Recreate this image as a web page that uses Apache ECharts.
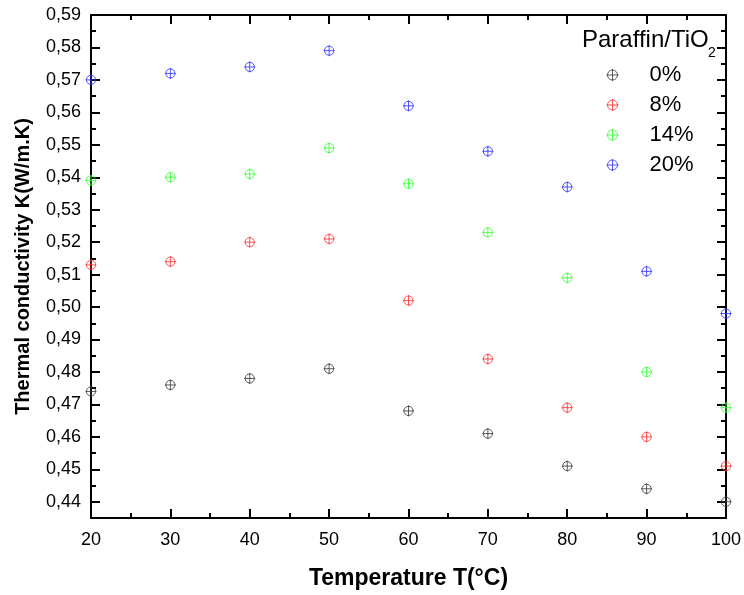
<!DOCTYPE html>
<html>
<head>
<meta charset="utf-8">
<script src="https://cdn.jsdelivr.net/npm/echarts@6/dist/echarts.min.js"></script>
<style>html,body{margin:0;padding:0;background:#fff}#c{width:744px;height:595px}</style>
</head>
<body>
<div id="c"></div>
<script>
// ---- data ----
const temperatures = [20, 30, 40, 50, 60, 70, 80, 90, 100];
const seriesNames = ['0%', '8%', '14%', '20%'];
const k0 = [0.474, 0.476, 0.478, 0.481, 0.468, 0.461, 0.451, 0.444, 0.440];
const k8 = [0.513, 0.514, 0.520, 0.521, 0.502, 0.484, 0.469, 0.460, 0.451];
const k14 = [0.539, 0.540, 0.541, 0.549, 0.538, 0.523, 0.509, 0.480, 0.469];
const k20 = [0.570, 0.572, 0.574, 0.579, 0.562, 0.548, 0.537, 0.511, 0.498];
const seriesValues = [k0, k8, k14, k20];
const colors = ['#333333', '#ff2a2a', '#2aff2a', '#2a2aff'];

const FONT = '"Liberation Sans", Arial, sans-serif';
const sym = 'path://M6,1A5,5 0 1 1 6,11A5,5 0 1 1 6,1ZM6,0L6,12M0,6L12,6';

const chart = echarts.init(document.getElementById('c'), null, {renderer: 'canvas'});

const gridMain = {left: 91, right: 18, top: 15, bottom: 77};
const yMin = 0.435, yMax = 0.59;
const pxPerUnit = (595 - gridMain.top - gridMain.bottom) / (yMax - yMin);
const gridLab = {left: 91, right: 18, top: 15, bottom: 77 + (0.44 - yMin) * pxPerUnit};

const fmt = v => v.toFixed(2).replace('.', ',');

const series = seriesNames.map((n, i) => ({
  name: n,
  type: 'scatter',
  xAxisIndex: 0, yAxisIndex: 0,
  data: temperatures.map((t, j) => [t, seriesValues[i][j]]),
  symbol: sym,
  symbolSize: 11,
  clip: true,
  itemStyle: {color: 'none', borderColor: colors[i], borderWidth: 1},
  emphasis: {disabled: true}
}));

chart.setOption({
  animation: false,
  grid: [gridMain, gridLab],
  legend: {
    left: 599, top: 59, orient: 'vertical', itemGap: 8, itemWidth: 14, itemHeight: 12,
    icon: sym,
    data: seriesNames.map((n, i) => ({name: n, itemStyle: {color: 'none', borderColor: colors[i], borderWidth: 1}})),
    textStyle: {fontFamily: FONT, fontSize: 22, color: '#000', padding: [0, 0, 0, 25]}
  },
  graphic: [{
    type: 'text', left: 582, top: 28,
    style: {text: 'Paraffin/TiO', font: '24px ' + FONT, fill: '#000'}
  }, {
    type: 'text', left: 708, top: 46,
    style: {text: '2', font: '14px ' + FONT, fill: '#000'}
  }],
  xAxis: [{
    gridIndex: 0, type: 'value', min: 20, max: 100, interval: 10,
    name: 'Temperature T(°C)', nameLocation: 'middle', nameGap: 49,
    nameTextStyle: {fontFamily: FONT, fontSize: 23, fontWeight: 'bold', color: '#000'},
    axisLine: {show: true, lineStyle: {color: '#000', width: 2}},
    axisTick: {show: true, inside: true, length: 9, lineStyle: {color: '#000', width: 2}},
    minorTick: {show: true, splitNumber: 2, length: 5, lineStyle: {color: '#000', width: 2}},
    axisLabel: {fontFamily: FONT, fontSize: 18, color: '#000', margin: 13},
    splitLine: {show: false}
  }, {
    gridIndex: 0, type: 'value', position: 'top', min: 20, max: 100, interval: 10,
    axisLine: {show: true, onZero: false, lineStyle: {color: '#000', width: 2}},
    axisTick: {show: true, inside: true, length: 9, lineStyle: {color: '#000', width: 2}},
    minorTick: {show: true, splitNumber: 2, length: 5, lineStyle: {color: '#000', width: 2}},
    axisLabel: {show: false}, splitLine: {show: false}
  }, {
    gridIndex: 1, type: 'value', min: 20, max: 100, show: false
  }],
  yAxis: [{
    gridIndex: 0, type: 'value', min: yMin, max: yMax, interval: 0.005,
    name: 'Thermal conductivity K(W/m.K)', nameLocation: 'middle', nameGap: 58,
    nameTextStyle: {fontFamily: FONT, fontSize: 20, fontWeight: 'bold', color: '#000'},
    axisLine: {show: true, onZero: false, lineStyle: {color: '#000', width: 2}},
    axisTick: {show: true, inside: true, length: 5, lineStyle: {color: '#000', width: 2}},
    axisLabel: {show: false}, splitLine: {show: false}
  }, {
    gridIndex: 0, type: 'value', position: 'right', min: yMin, max: yMax, interval: 0.005,
    axisLine: {show: true, onZero: false, lineStyle: {color: '#000', width: 2}},
    axisTick: {show: true, inside: true, length: 5, lineStyle: {color: '#000', width: 2}},
    axisLabel: {show: false}, splitLine: {show: false}
  }, {
    gridIndex: 1, type: 'value', min: 0.44, max: yMax, interval: 0.01,
    axisLine: {show: false},
    axisTick: {show: true, inside: true, length: 9, lineStyle: {color: '#000', width: 2}},
    axisLabel: {fontFamily: FONT, fontSize: 18, color: '#000', margin: 10, formatter: fmt},
    splitLine: {show: false}
  }, {
    gridIndex: 1, type: 'value', position: 'right', min: 0.44, max: yMax, interval: 0.01,
    axisLine: {show: false},
    axisTick: {show: true, inside: true, length: 9, lineStyle: {color: '#000', width: 2}},
    axisLabel: {show: false}, splitLine: {show: false}
  }],
  series: series
});
</script>
</body>
</html>
